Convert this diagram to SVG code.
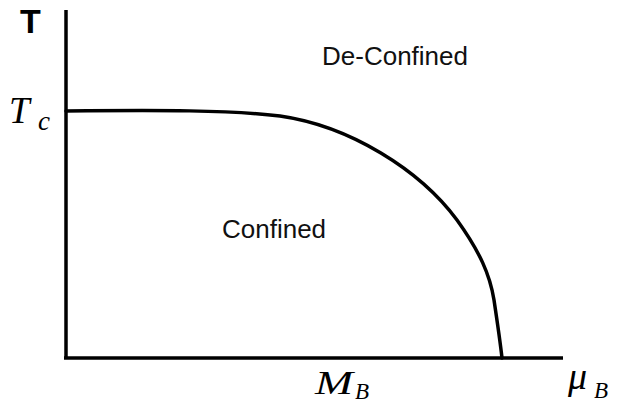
<svg xmlns="http://www.w3.org/2000/svg" width="618" height="406" viewBox="0 0 618 406">
<style>
.ax{stroke:#000;stroke-width:3.5;fill:none}
.cv{stroke:#000;stroke-width:3.5;fill:none;stroke-linecap:round}
.lb{font-family:"Liberation Sans",Arial,sans-serif;font-size:26px;fill:#111}
.m{font-family:"Liberation Serif","Times New Roman",serif;font-style:italic;fill:#000}
</style>
<rect width="618" height="406" fill="#fff"/>
<g id="axes">
<line class="ax" x1="66" y1="10" x2="66" y2="359"/>
<line class="ax" x1="64" y1="358" x2="563" y2="358"/>
</g>
<g id="connectors">
<path class="cv" d="M66,111 C160,110 230,110 280,116 C350,126 420,170 457,220 C480,252 490,275 494,300 C497,320 500,340 502,358"/>
</g>
<g id="labels">
<text x="20" y="33" style="font-family:'Liberation Sans',Arial,sans-serif;font-weight:bold;font-size:34px">T</text>
<text class="m" x="9" y="123" font-size="37">T</text>
<text class="m" x="38" y="130" font-size="27">c</text>
<text class="m" x="315" y="394" font-size="34" textLength="38" lengthAdjust="spacingAndGlyphs">M</text>
<text class="m" x="355" y="399" font-size="23">B</text>
<text class="lb" x="322" y="65">De-Confined</text>
<text class="lb" x="222" y="238">Confined</text>
<text class="m" x="568" y="389" font-size="38">μ</text>
<text class="m" x="594" y="398" font-size="23">B</text>
</g>
</svg>
